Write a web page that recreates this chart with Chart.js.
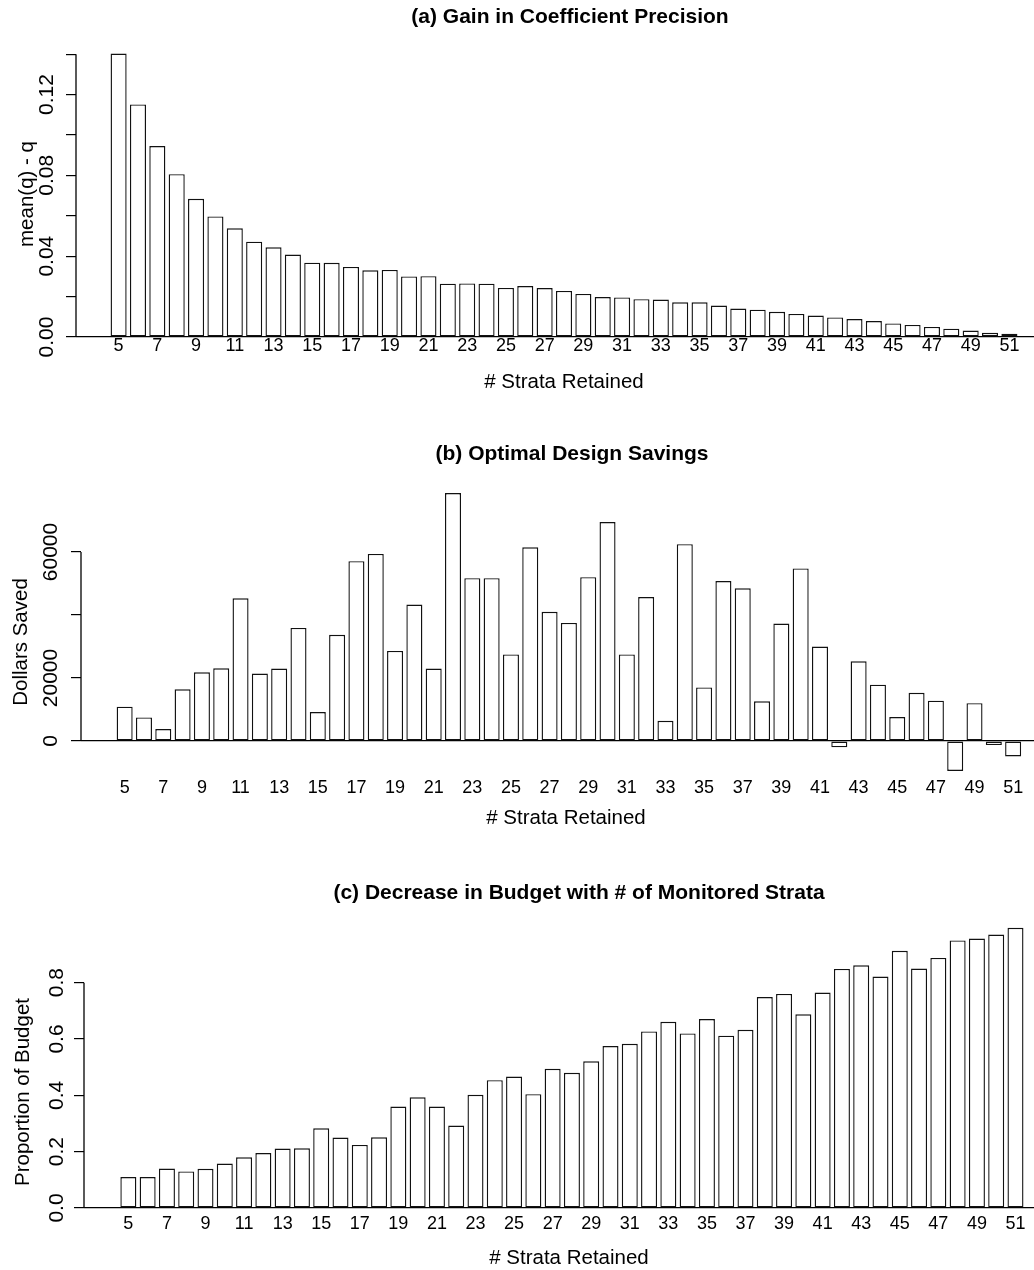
<!DOCTYPE html>
<html>
<head>
<meta charset="utf-8">
<script src="https://cdn.jsdelivr.net/npm/chart.js@4.4.1/dist/chart.umd.min.js"></script>
<style>
    html, body { margin: 0; padding: 0; background: #fff; }
    #page { position: relative; width: 1034px; height: 1270px; overflow: hidden; }
    #page canvas { position: absolute; left: 0; top: 0; }
</style>
</head>
<body>
<div id="page">
    <canvas id="chartA" width="1034" height="1270"></canvas>
    <canvas id="chartB" width="1034" height="1270"></canvas>
    <canvas id="chartC" width="1034" height="1270"></canvas>
</div>
<script>
    // # strata retained (one bar each)
    const strata = [5, 6, 7, 8, 9, 10, 11, 12, 13, 14, 15, 16, 17, 18, 19, 20, 21, 22, 23, 24, 25, 26, 27, 28,
        29, 30, 31, 32, 33, 34, 35, 36, 37, 38, 39, 40, 41, 42, 43, 44, 45, 46, 47, 48, 49, 50, 51];
    const xTickLabels = [5, 7, 9, 11, 13, 15, 17, 19, 21, 23, 25, 27, 29, 31, 33, 35, 37, 39, 41, 43, 45, 47, 49, 51];

    // (a) gain in coefficient precision: mean(q) - q
    const gainPrecision = [0.1403, 0.1151, 0.0945, 0.0806, 0.0684, 0.0597, 0.0538, 0.0472, 0.0444, 0.0408,
        0.0368, 0.0367, 0.0347, 0.0330, 0.0332, 0.0300, 0.0301, 0.0264, 0.0265, 0.0264, 0.0243, 0.0252,
        0.0242, 0.0228, 0.0213, 0.0198, 0.0196, 0.0187, 0.0185, 0.0172, 0.0172, 0.0156, 0.0141, 0.0135,
        0.0125, 0.0114, 0.0106, 0.0097, 0.0089, 0.0079, 0.0067, 0.0060, 0.0050, 0.0041, 0.0032, 0.0021, 0.0016];

    // (b) optimal design savings, dollars
    const dollarsSaved = [10900, 7500, 3800, 16400, 21800, 23100, 45300, 21400, 23000, 35900, 9200, 33700,
        57100, 59400, 28600, 43300, 23000, 78700, 51700, 51700, 27500, 61500, 41000, 37500, 52000, 69500,
        27500, 45700, 6400, 62500, 17000, 50800, 48500, 12600, 37300, 54800, 30000, -2000, 25300, 17900,
        7600, 15300, 12800, -9500, 12000, -1300, -4900];

    // (c) proportion of budget
    const budgetProportion = [0.110, 0.110, 0.140, 0.130, 0.139, 0.158, 0.180, 0.195, 0.211, 0.212, 0.283,
        0.250, 0.224, 0.251, 0.360, 0.393, 0.360, 0.293, 0.402, 0.454, 0.467, 0.404, 0.494, 0.480, 0.521,
        0.575, 0.583, 0.627, 0.661, 0.620, 0.671, 0.612, 0.633, 0.749, 0.760, 0.688, 0.765, 0.849, 0.862,
        0.822, 0.913, 0.850, 0.888, 0.950, 0.957, 0.971, 0.995];

    // y axis ticks and the labels R kept
    const yTicksA = [0, 0.02, 0.04, 0.06, 0.08, 0.10, 0.12, 0.14];
    const yLabelsA = ['0.00', '', '0.04', '', '0.08', '', '0.12', ''];
    const yTicksB = [0, 20000, 40000, 60000];
    const yLabelsB = ['0', '20000', '', '60000'];
    const yTicksC = [0, 0.2, 0.4, 0.6, 0.8];
    const yLabelsC = ['0.0', '0.2', '0.4', '0.6', '0.8'];

    const FONT = "'Liberation Sans', Arial, Helvetica, sans-serif";
    Chart.defaults.font.family = FONT;
    Chart.defaults.color = '#000';

    // draws the R-style bits: short y axis line, rotated tick labels, titles
    const rStyle = {
        id: 'rStyle',
        afterDraw(chart, args, o) {
            const { ctx, chartArea } = chart;
            const y = chart.scales.y;
            ctx.save();
            ctx.fillStyle = '#000';
            ctx.strokeStyle = '#000';

            ctx.lineWidth = 1.3;
            ctx.beginPath();
            ctx.moveTo(chartArea.left, y.getPixelForValue(o.ticks[o.ticks.length - 1]));
            ctx.lineTo(chartArea.left, y.getPixelForValue(o.ticks[0]));
            ctx.stroke();

            ctx.textAlign = 'center';
            ctx.textBaseline = 'middle';
            ctx.font = '21px ' + FONT;
            o.ticks.forEach((v, i) => {
                if (!o.labels[i]) return;
                ctx.save();
                ctx.translate(o.tickX, y.getPixelForValue(v));
                ctx.rotate(-Math.PI / 2);
                ctx.fillText(o.labels[i], 0, 0);
                ctx.restore();
            });

            ctx.font = '20.5px ' + FONT;
            ctx.save();
            ctx.translate(o.yTitleX, o.yTitleY);
            ctx.rotate(-Math.PI / 2);
            ctx.fillText(o.yTitle, 0, 0);
            ctx.restore();

            ctx.fillText('# Strata Retained', o.xTitleX, o.xTitleY);

            ctx.font = 'bold 21px ' + FONT;
            ctx.fillText(o.title, o.titleX, o.titleY);
            ctx.restore();
        }
    };

    function makePanel(id, values, p) {
        new Chart(document.getElementById(id), {
            type: 'bar',
            data: {
                datasets: [{
                    data: strata.map((s, i) => ({ x: s, y: values[i] })),
                    backgroundColor: '#fff',
                    borderColor: '#111',
                    borderWidth: 1.4,
                    borderSkipped: false,
                    barPercentage: 0.83,
                    categoryPercentage: 1
                }]
            },
            options: {
                responsive: false,
                animation: false,
                layout: { padding: { top: p.top, left: 0, right: 0, bottom: 0 } },
                plugins: {
                    legend: { display: false },
                    tooltip: { enabled: false },
                    rStyle: p.r
                },
                scales: {
                    x: {
                        type: 'linear',
                        offset: false,
                        min: p.xMin,
                        max: p.xMax,
                        grid: { display: false, drawTicks: false, offset: false },
                        border: { display: false },
                        ticks: { font: { size: 18 }, padding: p.xPad, maxRotation: 0, autoSkip: false },
                        afterBuildTicks: s => { s.ticks = xTickLabels.map(v => ({ value: v })); },
                        afterFit: s => { s.height = 1270 - p.bottom; }
                    },
                    y: {
                        min: p.yMin,
                        max: p.yMax,
                        border: { display: false },
                        grid: {
                            color: c => (c.tick && c.tick.value === 0 ? '#000' : 'rgba(0,0,0,0)'),
                            tickColor: '#000',
                            tickLength: 10,
                            lineWidth: 1.2
                        },
                        ticks: { display: false },
                        afterBuildTicks: s => { s.ticks = p.r.ticks.map(v => ({ value: v })); },
                        afterFit: s => { s.width = p.axisX; }
                    }
                }
            },
            plugins: [rStyle]
        });
    }

    makePanel('chartA', gainPrecision, {
        top: 41, bottom: 337, axisX: 76, xMin: 2.8, xMax: 52.27, xPad: -2,
        yMin: 0, yMax: 0.1465,
        r: {
            ticks: yTicksA, labels: yLabelsA, tickX: 47,
            yTitle: 'mean(q) - q', yTitleX: 27, yTitleY: 194,
            xTitleX: 564, xTitleY: 382,
            title: '(a) Gain in Coefficient Precision', titleX: 570, titleY: 17
        }
    });

    makePanel('chartB', dollarsSaved, {
        top: 482.7, bottom: 774.1, axisX: 81, xMin: 2.74, xMax: 52.08, xPad: 3,
        yMin: -10500, yMax: 82000,
        r: {
            ticks: yTicksB, labels: yLabelsB, tickX: 51,
            yTitle: 'Dollars Saved', yTitleX: 21, yTitleY: 642,
            xTitleX: 566, xTitleY: 818,
            title: '(b) Optimal Design Savings', titleX: 572, titleY: 454
        }
    });

    makePanel('chartC', budgetProportion, {
        top: 915.1, bottom: 1208, axisX: 84, xMin: 2.70, xMax: 51.96, xPad: 5,
        yMin: 0, yMax: 1.04,
        r: {
            ticks: yTicksC, labels: yLabelsC, tickX: 57,
            yTitle: 'Proportion of Budget', yTitleX: 23, yTitleY: 1092,
            xTitleX: 569, xTitleY: 1258,
            title: '(c) Decrease in Budget with # of Monitored Strata', titleX: 579, titleY: 893
        }
    });
</script>
</body>
</html>
